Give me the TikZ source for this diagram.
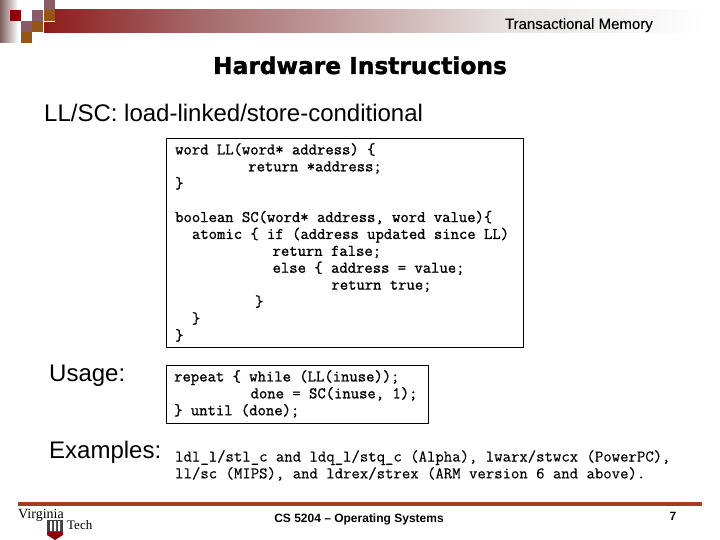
\documentclass[tikz,border=0pt]{standalone}
\usepackage{fontspec}
\setmainfont{Liberation Sans}
\newfontfamily\codefont[FakeBold=1.2]{Latin Modern Mono}
\newfontfamily\plaincode[FakeBold=0.3]{Latin Modern Mono}
\newfontfamily\logofont{Liberation Serif}
\newfontfamily\titlefont[BoldFeatures={FakeBold=1.5}]{DejaVu Sans}
\newfontfamily\headfont[FakeBold=0.2]{Liberation Sans}
\usepackage{tikz}
\usetikzlibrary{positioning}
\definecolor{barred}{RGB}{142,28,28}
\definecolor{barmid}{RGB}{165,105,105}
\definecolor{barpale}{RGB}{232,226,226}
\definecolor{darkred}{RGB}{140,0,10}
\definecolor{mauve}{RGB}{140,90,100}
\definecolor{ochre}{RGB}{150,85,20}
\definecolor{rulered}{RGB}{165,60,30}
\definecolor{sidegrey}{RGB}{125,95,95}
\newcommand{\ind}[1]{\hspace*{#1\dimexpr 8.4bp\relax}}
\begin{document}
\begin{tikzpicture}[x=1bp,y=-1bp,inner sep=0pt,
main text/.style={anchor=base west,font=\fontsize{24bp}{28bp}\selectfont},
code text/.style={anchor=north west,align=left,font=\codefont\fontsize{16.2bp}{16.9bp}\selectfont},
code box/.style={draw,line width=.8bp,anchor=north west},
square/.style={minimum width=11.2bp,minimum height=11.2bp,anchor=north west}]
\useasboundingbox (0,0) rectangle (720,540);
\begin{scope}
\shade[left color=sidegrey,right color=white] (0,0) rectangle (18,43);
\shade[left color=barred,right color=barmid] (44,10) rectangle (200,33);
\shade[left color=barmid,right color=barpale] (200,10) rectangle (510,33);
\shade[left color=barpale,right color=white] (510,10) rectangle (705,33);
\fill[white] (44,10) rectangle (55,22);
\node[square,fill=darkred] (s1) at (10,10) {};
\node[square,fill=mauve] (s2) at (44,0) {};
\node[square,fill=mauve] (s3) at (32,10) {};
\node[square,fill=ochre] (s4) at (44,10) {};
\node[square,fill=mauve] (s5) at (21,21) {};
\node[square,fill=ochre] (s6) at (32,21) {};
\node[square,fill=ochre] (s7) at (21,32) {};
\end{scope}
\node[anchor=base east,font=\headfont\fontsize{15bp}{16bp}\selectfont] (header) at (653,29) {Transactional Memory};
\node[anchor=base,font=\titlefont\bfseries\fontsize{23.3bp}{28bp}\selectfont] (title) at (360,74) {Hardware Instructions};
\node[main text] (subtitle) at (44,122) {LL/SC: load-linked/store-conditional};
\node[code box,minimum width=357bp,minimum height=209bp] (box1) at (166,138) {};
\node[code text] (code1) at (175,143) {word LL(word* address) \{\\
\ind{8.7}return *address;\\
\}\\
\strut\\
boolean SC(word* address, word value)\{\\
\ind{2}atomic \{ if (address updated since LL)\\
\ind{11.6}return false;\\
\ind{11.6}else \{ address = value;\\
\ind{18.6}return true;\\
\ind{9.5}\}\\
\ind{2}\}\\
\}};
\node[main text] (usage) at (49,381) {Usage:};
\node[code box,minimum width=262bp,minimum height=58bp] (box2) at (166,365) {};
\node[code text] (code2) at (174,370) {repeat \{ while (LL(inuse));\\
\ind{9.1}done = SC(inuse, 1);\\
\} until (done);};
\node[main text] (examples) at (49,458) {Examples:};
\node[code text,font=\plaincode\fontsize{16.3bp}{16.9bp}\selectfont] (code3) at (175,450) {ldl\_l/stl\_c and ldq\_l/stq\_c (Alpha), lwarx/stwcx (PowerPC),\\
ll/sc (MIPS), and ldrex/strex (ARM version 6 and above).};
\fill[rulered] (18,502) rectangle (702,506);
\node[anchor=base west,font=\logofont\fontsize{14bp}{16bp}\selectfont] (virginia) at (18,518) {Virginia};
\node[anchor=base west,font=\logofont\fontsize{13bp}{16bp}\selectfont] (tech) at (67,529) {Tech};
\fill[black!75] (47,520) rectangle (63,532);
\fill[white] (50,521) rectangle (52,531) (54,521) rectangle (56,531) (58,521) rectangle (60,531);
\fill[darkred] (47,532) -- (63,532) -- (63,535) -- (55,540) -- (47,535) -- cycle;
\node[anchor=base,font=\bfseries\fontsize{12bp}{14bp}\selectfont] (footer) at (359,522) {CS 5204 – Operating Systems};
\node[anchor=base,font=\bfseries\fontsize{12bp}{14bp}\selectfont] (page) at (673,520) {7};
\end{tikzpicture}
\end{document}
